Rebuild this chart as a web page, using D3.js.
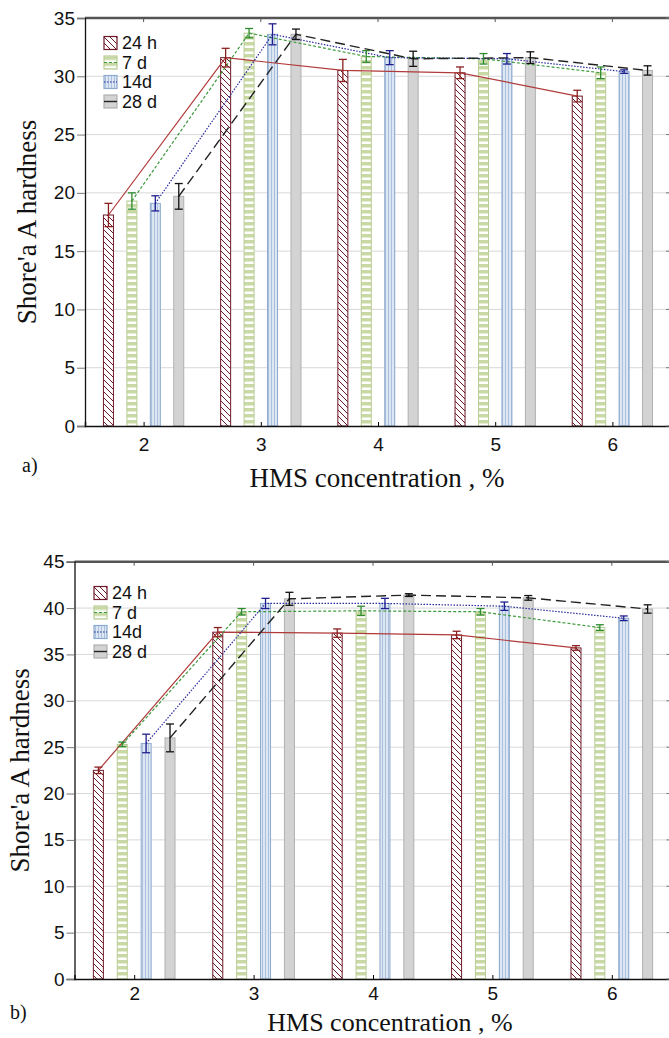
<!DOCTYPE html>
<html lang="en">
<head>
<meta charset="UTF-8">
<title>Shore A hardness</title>
<script src="https://d3js.org/d3.v7.min.js"></script>
<style>
    body { margin: 0; background: #fff; }
    svg { display: block; }
</style>
</head>
<body>
<div id="chart"></div>
<script>
    // categories and series
    const concentrations = [2, 3, 4, 5, 6];
    const seriesNames = ["24 h", "7 d", "14d", "28 d"];
    const ticksA = [0, 5, 10, 15, 20, 25, 30, 35];
    const ticksB = [0, 5, 10, 15, 20, 25, 30, 35, 40, 45];

    // panel a) mean values and errors
    const a24h = [18.1, 31.6, 30.5, 30.3, 28.3];
    const a7d = [19.3, 33.7, 31.7, 31.5, 30.3];
    const a14d = [19.1, 33.6, 31.6, 31.5, 30.4];
    const a28d = [19.7, 33.6, 31.5, 31.6, 30.5];
    const a24hErr = [1.0, 0.8, 0.95, 0.5, 0.5];
    const a7dErr = [0.7, 0.4, 0.5, 0.45, 0.5];
    const a14dErr = [0.65, 0.9, 0.6, 0.45, 0.15];
    const a28dErr = [1.1, 0.45, 0.65, 0.5, 0.4];

    // panel b)
    const b24h = [22.5, 37.4, 37.3, 37.1, 35.7];
    const b7d = [25.3, 39.6, 39.7, 39.6, 37.9];
    const b14d = [25.4, 40.5, 40.5, 40.2, 38.9];
    const b28d = [26.0, 41.0, 41.4, 41.1, 39.9];
    const b24hErr = [0.35, 0.5, 0.45, 0.4, 0.25];
    const b7dErr = [0.25, 0.35, 0.5, 0.35, 0.3];
    const b14dErr = [1.0, 0.55, 0.55, 0.45, 0.25];
    const b28dErr = [1.5, 0.7, 0.15, 0.25, 0.45];

    const W = 669, H = 1038;
    const SANS = "'Liberation Sans', Arial, sans-serif";
    const SERIF = "'Liberation Serif', 'Times New Roman', 'DejaVu Serif', serif";

    const styles = [
        { fill: "url(#hatch24)", stroke: "#6e1a28", line: "#b03a3a", dash: null, lw: 1.2, err: "#8b2020" },
        { fill: "url(#stripe7)", stroke: "#b8cc94", line: "#3c9a3c", dash: "3,2", lw: 1.2, err: "#2e8b2e" },
        { fill: "url(#vline14)", stroke: "#8ea9cf", line: "#2a2aa0", dash: "1.5,1.5", lw: 1.2, err: "#1f1f8f" },
        { fill: "#d3d3d3", stroke: "#b0b0b0", line: "#222", dash: "10,5", lw: 1.4, err: "#111" }
    ];

    const svg = d3.select("#chart").append("svg")
        .attr("width", W).attr("height", H);

    // fill patterns
    const defs = svg.append("defs");
    const p1 = defs.append("pattern").attr("id", "hatch24")
        .attr("patternUnits", "userSpaceOnUse").attr("width", 6).attr("height", 6);
    p1.append("rect").attr("width", 6).attr("height", 6).attr("fill", "#fff");
    p1.append("path").attr("d", "M0,0L6,6M-1,5L1,7M5,-1L7,1")
        .attr("stroke", "#6e1a28").attr("stroke-width", 1);

    const p2 = defs.append("pattern").attr("id", "stripe7")
        .attr("patternUnits", "userSpaceOnUse").attr("width", 6).attr("height", 6);
    p2.append("rect").attr("width", 6).attr("height", 6).attr("fill", "#fff");
    p2.append("rect").attr("width", 6).attr("height", 3.5).attr("fill", "#c9d9a6");

    const p3 = defs.append("pattern").attr("id", "vline14")
        .attr("patternUnits", "userSpaceOnUse").attr("width", 3).attr("height", 6);
    p3.append("rect").attr("width", 3).attr("height", 6).attr("fill", "#dde7f3");
    p3.append("rect").attr("x", 1).attr("width", 0.8).attr("height", 6).attr("fill", "#9fb6d8");

    function drawPanel(cfg) {
        const x = d3.scaleLinear().domain([1.5, 6.5]).range([cfg.left, cfg.right]);
        const y = d3.scaleLinear().domain([0, cfg.ymax]).range([cfg.bottom, cfg.top]);
        const g = svg.append("g");
        const barW = 10;
        const step = 0.2;
        const xPos = (c, s) => x(c + (s - 1.5) * step);

        // grid
        g.append("g").selectAll("line").data(cfg.ticks.slice(1)).join("line")
            .attr("x1", cfg.left).attr("x2", cfg.right)
            .attr("y1", d => y(d)).attr("y2", d => y(d))
            .attr("stroke", "#d9d9d9").attr("stroke-width", 1);

        // bars
        cfg.series.forEach((vals, s) => {
            g.append("g").selectAll("rect").data(vals).join("rect")
                .attr("x", (d, i) => xPos(concentrations[i], s) - barW / 2)
                .attr("width", barW)
                .attr("y", d => y(d))
                .attr("height", d => y(0) - y(d))
                .attr("fill", styles[s].fill)
                .attr("stroke", styles[s].stroke)
                .attr("stroke-width", 1);
        });

        // lines
        cfg.series.forEach((vals, s) => {
            const line = d3.line()
                .x((d, i) => xPos(concentrations[i], s))
                .y(d => y(d));
            g.append("path").datum(vals)
                .attr("d", line)
                .attr("fill", "none")
                .attr("stroke", styles[s].line)
                .attr("stroke-width", styles[s].lw)
                .attr("stroke-dasharray", styles[s].dash);
        });

        // error bars
        cfg.series.forEach((vals, s) => {
            const eg = g.append("g").attr("stroke", styles[s].err).attr("stroke-width", 1.3);
            vals.forEach((v, i) => {
                const cx = xPos(concentrations[i], s);
                const e = cfg.errors[s][i];
                eg.append("line").attr("x1", cx).attr("x2", cx).attr("y1", y(v - e)).attr("y2", y(v + e));
                eg.append("line").attr("x1", cx - 4).attr("x2", cx + 4).attr("y1", y(v - e)).attr("y2", y(v - e));
                eg.append("line").attr("x1", cx - 4).attr("x2", cx + 4).attr("y1", y(v + e)).attr("y2", y(v + e));
            });
        });

        // frame
        g.append("line").attr("x1", cfg.left).attr("x2", cfg.right)
            .attr("y1", cfg.top).attr("y2", cfg.top)
            .attr("stroke", "#555").attr("stroke-width", 2.5);
        g.append("line").attr("x1", cfg.right).attr("x2", cfg.right)
            .attr("y1", cfg.top).attr("y2", cfg.bottom)
            .attr("stroke", "#555").attr("stroke-width", 1.5);

        // axes
        const yAxis = d3.axisLeft(y).tickValues(cfg.ticks).tickSize(8).tickPadding(2);
        const ya = g.append("g").attr("transform", `translate(${cfg.left},0)`).call(yAxis);
        ya.select(".domain").attr("stroke", "#111").attr("stroke-width", 1.3);
        ya.selectAll(".tick line").attr("stroke", "#777");
        ya.selectAll("text").style("font-family", SANS).style("font-size", "19px").style("fill", "#111");

        const xAxis = d3.axisBottom(x).tickValues(concentrations).tickFormat(d3.format("d"))
            .tickSize(-4).tickPadding(cfg.xPad);
        const xa = g.append("g").attr("transform", `translate(0,${cfg.bottom})`).call(xAxis);
        xa.select(".domain").attr("stroke", "#111").attr("stroke-width", 1.5);
        xa.selectAll("text").style("font-family", SANS).style("font-size", "19px").style("fill", "#111");

        // ticks on top and right
        g.append("g").selectAll("line").data(concentrations).join("line")
            .attr("x1", d => x(d)).attr("x2", d => x(d))
            .attr("y1", cfg.top).attr("y2", cfg.top + 4).attr("stroke", "#555");
        g.append("g").selectAll("line").data(cfg.ticks).join("line")
            .attr("x1", cfg.right - 5).attr("x2", cfg.right)
            .attr("y1", d => y(d)).attr("y2", d => y(d)).attr("stroke", "#777");

        // titles
        svg.append("text")
            .attr("transform", `translate(${cfg.ylabX},${(cfg.top + cfg.bottom) / 2}) rotate(-90)`)
            .attr("text-anchor", "middle").attr("dy", "0.35em")
            .style("font-family", SERIF).style("font-size", "27px").style("fill", "#111")
            .text("Shore'a A  hardness");
        svg.append("text")
            .attr("x", cfg.xlabX).attr("y", cfg.xlabY)
            .attr("text-anchor", "middle")
            .style("font-family", SERIF).style("font-size", cfg.xlabSize).style("fill", "#111")
            .text("HMS concentration , %");
        svg.append("text")
            .attr("x", cfg.panelX).attr("y", cfg.panelY)
            .style("font-family", SERIF).style("font-size", "20px").style("fill", "#111")
            .text(cfg.panel);

        // legend
        const lg = svg.append("g").attr("transform", `translate(${cfg.legX},${cfg.legY})`);
        seriesNames.forEach((name, s) => {
            const row = lg.append("g").attr("transform", `translate(0,${s * 19.5})`);
            row.append("rect").attr("x", 0).attr("y", -6.5).attr("width", 13).attr("height", 13)
                .attr("fill", styles[s].fill).attr("stroke", styles[s].stroke).attr("stroke-width", 1.2);
            if (s > 0) {
                row.append("line").attr("x1", 0).attr("x2", 13).attr("y1", 0).attr("y2", 0)
                    .attr("stroke", styles[s].line).attr("stroke-width", styles[s].lw)
                    .attr("stroke-dasharray", s === 3 ? null : styles[s].dash);
            }
            row.append("text")
                .attr("x", 18).attr("y", 0).attr("dy", "0.35em")
                .style("font-family", SANS).style("font-size", "18px").style("fill", "#111")
                .text(name);
        });
    }

    drawPanel({
        left: 85, right: 671, top: 18, bottom: 426, ymax: 35, ticks: ticksA,
        series: [a24h, a7d, a14d, a28d],
        errors: [a24hErr, a7dErr, a14dErr, a28dErr], xPad: 12,
        ylabX: 27, xlabX: 377, xlabY: 487, xlabSize: "27px", panel: "a)", panelX: 22, panelY: 472,
        legX: 104, legY: 43
    });

    drawPanel({
        left: 74.5, right: 671.5, top: 561.7, bottom: 979, ymax: 45, ticks: ticksB,
        series: [b24h, b7d, b14d, b28d],
        errors: [b24hErr, b7dErr, b14dErr, b28dErr], xPad: 8,
        ylabX: 20, xlabX: 390, xlabY: 1031, xlabSize: "26px", panel: "b)", panelX: 10, panelY: 1019,
        legX: 94, legY: 593
    });
</script>
</body>
</html>
